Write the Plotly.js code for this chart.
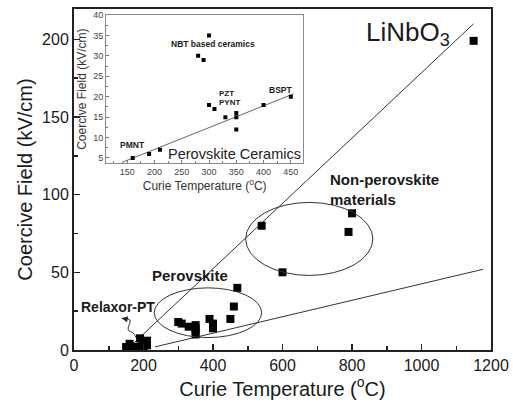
<!DOCTYPE html>
<html>
<head>
<meta charset="utf-8">
<script src="https://cdn.plot.ly/plotly-3.0.1.min.js"></script>
<style>html,body{margin:0;padding:0;background:#fff;}#chart{width:513px;height:410px;}</style>
</head>
<body>
<div id="chart"></div>
<script>
// ---- Main plot data ----
const relaxorX = [150, 160, 165, 170, 180, 190, 195, 200, 210, 210];
const relaxorY = [2, 4, 1, 1.5, 2, 7.5, 4.5, 2, 6, 3];
const perovX = [300, 310, 330, 350, 350, 350, 350, 390, 400, 400, 450, 460, 470];
const perovY = [18, 17, 15, 16, 14, 12, 10, 20, 17, 14, 20, 28, 40];
const nonPerovX = [540, 600, 790, 800];
const nonPerovY = [80, 50, 76, 88];
const linbo3X = [1150];
const linbo3Y = [199];
const upperLineX = [170, 1150];
const upperLineY = [4, 210];
const lowerLineX = [233, 1178];
const lowerLineY = [2, 52];
// ellipses: [xmin, xmax, ymin, ymax]
const perovEllipse = [231, 540, 8, 40];
const nonPerovEllipse = [494, 860, 48, 95];
// Relaxor-PT pointer path
const pointerX = [137, 161, 156, 171, 180];
const pointerY = [20.4, 19.3, 12.9, 10.8, 7.5];

// ---- Inset data ----
const insetX = [160, 190, 210, 280, 290, 300, 300, 310, 330, 350, 350, 350, 400, 450];
const insetY = [5, 6, 7, 30, 29, 35, 18, 17, 15, 16, 15, 12, 18, 20];
const insetLineX = [140, 455];
const insetLineY = [3.9, 20.7];

const FONT = 'Liberation Sans, Arial, sans-serif';
const INK = '#1a1a1a';

const mainX = [].concat(relaxorX, perovX, nonPerovX, linbo3X);
const mainY = [].concat(relaxorY, perovY, nonPerovY, linbo3Y);

const traces = [
  {x: upperLineX, y: upperLineY, mode: 'lines', line: {color: '#333', width: 1}, xaxis: 'x', yaxis: 'y', hoverinfo: 'skip'},
  {x: lowerLineX, y: lowerLineY, mode: 'lines', line: {color: '#333', width: 1}, xaxis: 'x', yaxis: 'y', hoverinfo: 'skip'},
  {x: pointerX, y: pointerY, mode: 'lines', line: {color: '#333', width: 1, shape: 'spline'}, xaxis: 'x', yaxis: 'y', hoverinfo: 'skip'},
  {x: mainX, y: mainY, mode: 'markers', marker: {symbol: 'square', size: 8, color: '#000'}, xaxis: 'x', yaxis: 'y'},
  {x: insetLineX, y: insetLineY, mode: 'lines', line: {color: '#666', width: 1}, xaxis: 'x2', yaxis: 'y2', hoverinfo: 'skip'},
  {x: insetX, y: insetY, mode: 'markers', marker: {symbol: 'square', size: 4, color: '#000'}, xaxis: 'x2', yaxis: 'y2'}
];

function ell(e) {
  return {type: 'circle', xref: 'x', yref: 'y', x0: e[0], x1: e[1], y0: e[2], y1: e[3], line: {color: '#333', width: 1}};
}

const layout = {
  width: 513, height: 410,
  margin: {l: 74, r: 22, t: 9, b: 60},
  paper_bgcolor: '#fff', plot_bgcolor: '#fff',
  showlegend: false,
  font: {family: FONT, color: INK},
  xaxis: {
    range: [0, 1200], domain: [0, 1],
    tickvals: [0, 200, 400, 600, 800, 1000, 1200],
    ticks: 'inside', ticklen: 6, tickwidth: 1.5, tickcolor: '#222',
    minor: {dtick: 100, ticks: 'inside', ticklen: 4, tickwidth: 1.5, tickcolor: '#222'},
    showline: true, linecolor: '#222', linewidth: 2, mirror: true,
    showgrid: false, zeroline: false,
    tickfont: {size: 16, family: FONT, color: INK},
    title: {text: 'Curie Temperature (<sup>o</sup>C)', font: {size: 20, family: FONT, color: INK}, standoff: 6}
  },
  yaxis: {
    range: [0, 219.5], domain: [0, 1],
    tickvals: [0, 50, 100, 150, 200],
    ticks: 'inside', ticklen: 6, tickwidth: 1.5, tickcolor: '#222',
    minor: {dtick: 25, ticks: 'inside', ticklen: 4, tickwidth: 1.5, tickcolor: '#222'},
    showline: true, linecolor: '#222', linewidth: 2, mirror: true,
    showgrid: false, zeroline: false,
    tickfont: {size: 16, family: FONT, color: INK},
    title: {text: 'Coercive Field (kV/cm)', font: {size: 20, family: FONT, color: INK}, standoff: 4}
  },
  xaxis2: {
    anchor: 'y2', domain: [0.0767, 0.55],
    range: [111, 473],
    tickvals: [150, 200, 250, 300, 350, 400, 450],
    ticks: 'inside', ticklen: 3, tickwidth: 1, tickcolor: '#777',
    minor: {dtick: 25, ticks: 'inside', ticklen: 2, tickcolor: '#777'},
    showline: true, linecolor: '#888', linewidth: 1, mirror: true,
    showgrid: false, zeroline: false,
    tickfont: {size: 9, family: FONT, color: '#444'},
    title: {text: 'Curie Temperature (<sup>o</sup>C)', font: {size: 12, family: FONT, color: '#333'}, standoff: 2}
  },
  yaxis2: {
    anchor: 'x2', domain: [0.5475, 0.9824],
    range: [3.7, 40],
    tickvals: [5, 10, 15, 20, 25, 30, 35, 40],
    ticks: 'inside', ticklen: 3, tickwidth: 1, tickcolor: '#777',
    minor: {dtick: 2.5, ticks: 'inside', ticklen: 2, tickcolor: '#777'},
    showline: true, linecolor: '#888', linewidth: 1, mirror: true,
    showgrid: false, zeroline: false,
    tickfont: {size: 9, family: FONT, color: '#444'},
    title: {text: 'Coercive Field (kV/cm)', font: {size: 12, family: FONT, color: '#333'}, standoff: 3}
  },
  shapes: [ell(perovEllipse), ell(nonPerovEllipse)],
  annotations: [
    {xref: 'x', yref: 'y', x: 137, y: 20.4, ax: 158, ay: 19.6, axref: 'x', ayref: 'y', text: '', showarrow: true, arrowhead: 2, arrowsize: 1.2, arrowwidth: 1, arrowcolor: '#222'},
    {xref: 'x', yref: 'y', x: 960, y: 204, text: 'LiNbO<sub>3</sub>', showarrow: false, font: {size: 26, family: FONT, color: INK}, xanchor: 'center', yanchor: 'middle'},
    {xref: 'x', yref: 'y', x: 730, y: 103, text: '<b>Non-perovskite<br>materials</b>', showarrow: false, align: 'left', font: {size: 15, family: FONT, color: INK}, xanchor: 'left', yanchor: 'middle'},
    {xref: 'x', yref: 'y', x: 335, y: 48, text: '<b>Perovskite</b>', showarrow: false, font: {size: 15, family: FONT, color: INK}, xanchor: 'center', yanchor: 'middle'},
    {xref: 'x', yref: 'y', x: 13, y: 28, text: '<b>Relaxor-PT</b>', showarrow: false, font: {size: 14, family: FONT, color: INK}, xanchor: 'left', yanchor: 'middle'},
    {xref: 'x2', yref: 'y2', x: 308, y: 32.8, text: '<b>NBT based ceramics</b>', showarrow: false, font: {size: 8.5, family: FONT, color: INK}, xanchor: 'center', yanchor: 'middle'},
    {xref: 'x2', yref: 'y2', x: 314, y: 20.8, text: '<b>PZT</b>', showarrow: false, font: {size: 8, family: FONT, color: INK}, xanchor: 'left', yanchor: 'middle'},
    {xref: 'x2', yref: 'y2', x: 314, y: 18.6, text: '<b>PYNT</b>', showarrow: false, font: {size: 8, family: FONT, color: INK}, xanchor: 'left', yanchor: 'middle'},
    {xref: 'x2', yref: 'y2', x: 432, y: 21.6, text: '<b>BSPT</b>', showarrow: false, font: {size: 8.5, family: FONT, color: INK}, xanchor: 'center', yanchor: 'middle'},
    {xref: 'x2', yref: 'y2', x: 160, y: 8.2, text: '<b>PMNT</b>', showarrow: false, font: {size: 8.5, family: FONT, color: INK}, xanchor: 'center', yanchor: 'middle'},
    {xref: 'x2', yref: 'y2', x: 473, y: 6.0, text: 'Perovskite Ceramics', showarrow: false, font: {size: 14.5, family: FONT, color: '#222'}, xanchor: 'right', yanchor: 'middle'}
  ]
};

Plotly.newPlot('chart', traces, layout, {displayModeBar: false, staticPlot: true});
</script>
</body>
</html>
